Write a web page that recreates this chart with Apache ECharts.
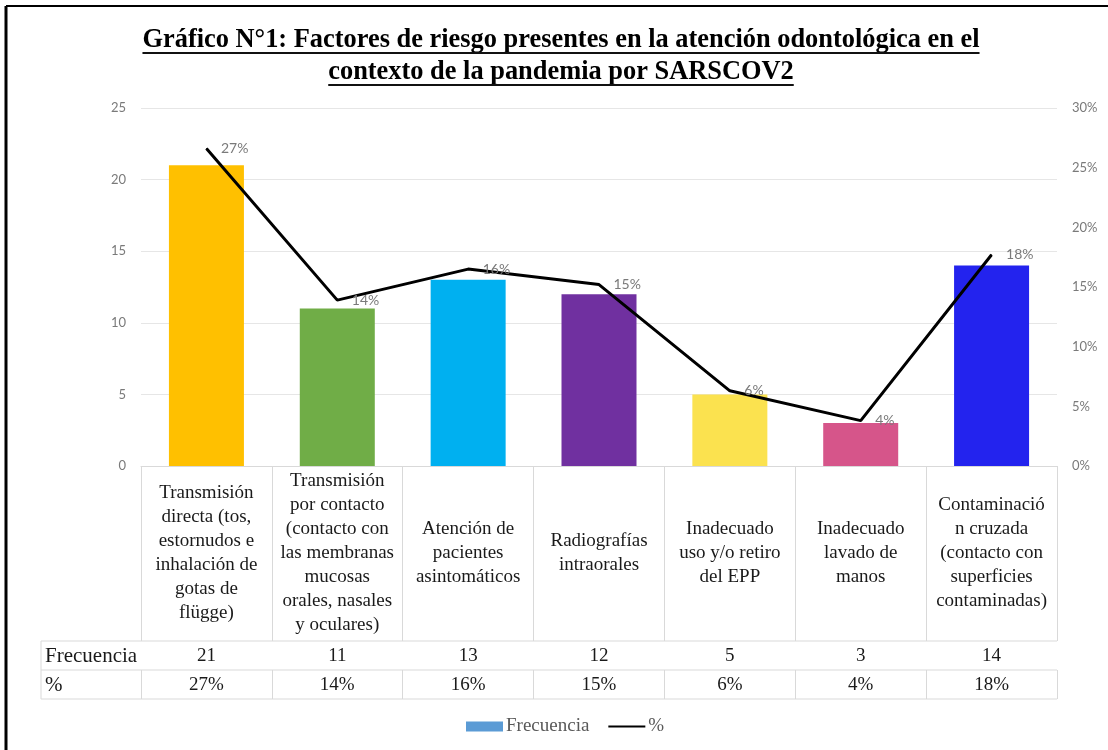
<!DOCTYPE html>
<html><head><meta charset="utf-8">
<script src="https://cdn.jsdelivr.net/npm/echarts@6/dist/echarts.min.js"></script>
<style>html,body{margin:0;padding:0;background:#fff}#c{width:1108px;height:750px}</style>
</head><body><div id="c"></div>
<script>
const titleLines = [
  'Gráfico N°1: Factores de riesgo presentes en la atención odontológica en el',
  'contexto de la pandemia por SARSCOV2'
];
const categories = [
  'Transmisión\ndirecta (tos,\nestornudos e\ninhalación de\ngotas de\nflügge)',
  'Transmisión\npor contacto\n(contacto con\nlas membranas\nmucosas\norales, nasales\ny oculares)',
  'Atención de\npacientes\nasintomáticos',
  'Radiografías\nintraorales',
  'Inadecuado\nuso y/o retiro\ndel EPP',
  'Inadecuado\nlavado de\nmanos',
  'Contaminació\nn cruzada\n(contacto con\nsuperficies\ncontaminadas)'
];
const frecuencia = [21, 11, 13, 12, 5, 3, 14];
const porcentaje = [0.266, 0.139, 0.165, 0.152, 0.063, 0.038, 0.177];
const porcentajeLabels = ['27%', '14%', '16%', '15%', '6%', '4%', '18%'];
const barColors = ['#FFC000', '#70AD47', '#00B0F0', '#7030A0', '#FBE24F', '#D6558A', '#2323EE'];
const rowHeaders = ['Frecuencia', '%'];
const legendNames = ['Frecuencia', '%'];

const SERIF = '"Liberation Serif", "Times New Roman", serif';
const SANS = 'Lato, "Liberation Sans", sans-serif';
const gridL = 141, gridR = 1057, gridT = 108, axisY = 466;
const catRowH = 175, rowH = 29, tableL = 41;
const lineColor = '#d9d9d9';

const chart = echarts.init(document.getElementById('c'), null, {renderer: 'canvas'});

const ctx = document.createElement('canvas').getContext('2d');
const titleFont = 'bold 26.4px "Liberation Serif"';
ctx.font = titleFont;
const titleCx = 561;
const titleY = [40, 72];
const graphics = [];
graphics.push({type: 'line', shape: {x1: 6, y1: 6, x2: 6, y2: 750}, style: {stroke: '#000', lineWidth: 3}});
graphics.push({type: 'line', shape: {x1: 6, y1: 6, x2: 1108, y2: 6}, style: {stroke: '#000', lineWidth: 2}});
titleLines.forEach((t, i) => {
  const w = ctx.measureText(t).width;
  graphics.push({type: 'text', x: titleCx, y: titleY[i], style: {text: t, font: titleFont, fill: '#000', align: 'center', verticalAlign: 'middle'}});
  graphics.push({type: 'line', shape: {x1: titleCx - w / 2, y1: titleY[i] + 13, x2: titleCx + w / 2, y2: titleY[i] + 13}, style: {stroke: '#111', lineWidth: 2}});
});
const rowTops = [axisY + catRowH, axisY + catRowH + rowH, axisY + catRowH + 2 * rowH];
rowTops.forEach(y => graphics.push({type: 'line', shape: {x1: tableL, y1: y, x2: gridR, y2: y}, style: {stroke: lineColor, lineWidth: 1}}));
graphics.push({type: 'line', shape: {x1: tableL, y1: rowTops[0], x2: tableL, y2: rowTops[2]}, style: {stroke: lineColor, lineWidth: 1}});
rowHeaders.forEach((h, i) => {
  graphics.push({type: 'text', x: tableL + 4, y: rowTops[i] + rowH / 2 + 1, style: {text: h, font: '21px "Liberation Serif"', fill: '#1a1a1a', align: 'left', verticalAlign: 'middle'}});
});

const tableLabel = {interval: 0, verticalAlign: 'middle', fontFamily: SERIF, fontSize: 19, color: '#1a1a1a'};

chart.setOption({
  animation: false,
  backgroundColor: '#fff',
  grid: {left: gridL, right: 1108 - gridR, top: gridT, bottom: 750 - axisY, containLabel: false},
  legend: {
    data: [{name: legendNames[0], icon: 'rect'}, {name: legendNames[1], itemStyle: {color: 'rgba(0,0,0,0)', borderWidth: 0}}],
    bottom: 9, left: 461, itemWidth: 37, itemHeight: 10, itemGap: 18,
    textStyle: {fontFamily: SERIF, fontSize: 19, color: '#595959', padding: [0, 0, 0, -2]}
  },
  xAxis: [
    {
      type: 'category', data: categories, position: 'bottom',
      axisLine: {show: true, lineStyle: {color: lineColor}},
      axisTick: {show: true, length: catRowH, interval: 0, lineStyle: {color: lineColor}},
      axisLabel: Object.assign({}, tableLabel, {margin: catRowH / 2, lineHeight: 24}),
      splitLine: {show: false}
    },
    {
      type: 'category', data: frecuencia.map(String), position: 'bottom', offset: catRowH,
      axisLine: {show: false},
      axisTick: {show: true, length: rowH, interval: 0, lineStyle: {color: lineColor}},
      axisLabel: Object.assign({}, tableLabel, {margin: rowH / 2 + 1})
    },
    {
      type: 'category', data: porcentajeLabels, position: 'bottom', offset: catRowH + rowH,
      axisLine: {show: false},
      axisTick: {show: true, length: rowH, interval: 0, lineStyle: {color: lineColor}},
      axisLabel: Object.assign({}, tableLabel, {margin: rowH / 2 + 1})
    }
  ],
  yAxis: [
    {
      type: 'value', min: 0, max: 25, interval: 5,
      axisLine: {show: false}, axisTick: {show: false},
      axisLabel: {color: '#7a7a7a', fontFamily: SANS, fontSize: 13, margin: 15},
      splitLine: {lineStyle: {color: '#e6e6e6', width: 1}}
    },
    {
      type: 'value', min: 0, max: 0.30, interval: 0.05,
      axisLine: {show: false}, axisTick: {show: false},
      axisLabel: {color: '#7a7a7a', fontFamily: SANS, fontSize: 13, margin: 15, formatter: v => Math.round(v * 100) + '%'},
      splitLine: {show: false}
    }
  ],
  series: [
    {
      name: legendNames[0], type: 'bar', xAxisIndex: 0, yAxisIndex: 0,
      barWidth: 75,
      itemStyle: {color: '#5B9BD5'},
      data: frecuencia.map((v, i) => ({value: v, itemStyle: {color: barColors[i]}}))
    },
    {
      name: legendNames[1], type: 'line', xAxisIndex: 0, yAxisIndex: 1,
      data: porcentaje,
      symbol: 'circle', symbolSize: 1, showSymbol: true,
      itemStyle: {color: '#000'},
      lineStyle: {color: '#000', width: 3},
      label: {show: true, position: 'right', distance: 14, color: '#7a7a7a', fontFamily: SANS, fontSize: 14,
        formatter: p => porcentajeLabels[p.dataIndex]},
      z: 5
    }
  ],
  graphic: graphics
});
</script></body></html>
